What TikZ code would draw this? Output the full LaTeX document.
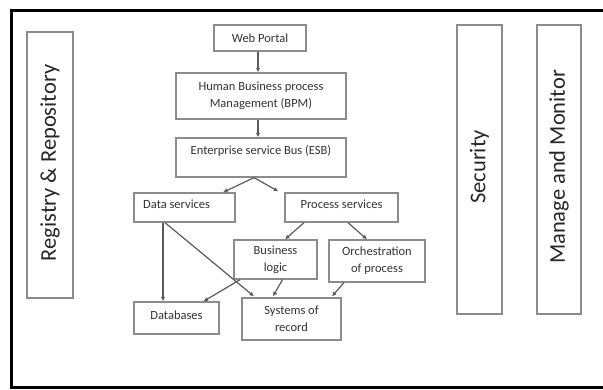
\documentclass[tikz,border=0pt]{standalone}
\usepackage{fontspec}
\setmainfont{Carlito}
\usetikzlibrary{arrows.meta,calc}
\definecolor{boxgray}{HTML}{8C8C8C}
\definecolor{linegray}{HTML}{5A5A5A}
\tikzset{
  box/.style={draw=boxgray, line width=1.3pt, inner sep=0pt, align=center,
    font=\fontsize{12.5}{17}\selectfont, text=black!80},
  txt/.style={inner sep=0pt, align=center, font=\fontsize{12.5}{17}\selectfont, text=black!80},
  side/.style={draw=boxgray, line width=1.3pt, inner sep=0pt},
  sidetxt/.style={inner sep=0pt, rotate=90, font=\fontsize{22.5}{26}\selectfont, text=black!85},
  arr/.style={draw=linegray, line width=1.2pt, -{Latex[length=4.5pt,width=4.5pt]}}
}
\begin{document}
\begin{tikzpicture}[x=1pt,y=-1pt]
\useasboundingbox (0,0) rectangle (603,389);
\begin{scope}
\clip (0,0) rectangle (603,389);
\draw[line width=3pt, black] (11.5,10) rectangle (620,387);
\end{scope}
% side boxes
\node[side, minimum width=46pt, minimum height=266pt] (reg) at (50,165) {};
\node[sidetxt] at (50,163) {Registry \& Repository};
\node[side, minimum width=45pt, minimum height=289pt] (sec) at (479.5,169.5) {};
\node[sidetxt] at (479.5,167) {Security};
\node[side, minimum width=44pt, minimum height=289pt] (mm) at (559,169.5) {};
\node[sidetxt] at (559,167) {Manage and Monitor};
% main boxes
\node[box, minimum width=92pt, minimum height=26pt] (wp) at (260,38) {Web Portal};
\node[box, minimum width=170pt, minimum height=46pt] (bpm) at (261,96) {Human Business process\\Management (BPM)};
\node[box, minimum width=170pt, minimum height=39pt] (esb) at (261,157.5) {};
\node[txt] at (261,151) {Enterprise service Bus (ESB)};
\node[box, minimum width=101pt, minimum height=29pt] (ds) at (184.5,207.5) {};
\node[txt, anchor=west] at (143,204) {Data services};
\node[box, minimum width=113pt, minimum height=29pt] (ps) at (341.5,207.5) {};
\node[txt] at (341.5,204) {Process services};
\node[box, minimum width=83pt, minimum height=39pt] (bl) at (275.5,259.5) {Business\\logic};
\node[box, minimum width=96pt, minimum height=42pt] (orc) at (377,261) {Orchestration\\of process};
\node[box, minimum width=85pt, minimum height=32pt] (db) at (176.5,318) {};
\node[txt] at (176.5,315) {Databases};
\node[box, minimum width=99pt, minimum height=42pt] (sor) at (291.5,319) {Systems of\\record};
% arrows
\draw[arr] ($(wp.south)+(-2,0)$) -- ($(bpm.north)+(-3,0)$);
\draw[arr] ($(bpm.south)+(-3,0)$) -- ($(esb.north)+(-3,0)$);
\draw[arr] ($(esb.south)+(-7,0)$) -- ($(ds.north)+(38.5,0)$);
\draw[arr] ($(esb.south)+(-7,0)$) -- ($(ps.north west)+(-6,-1)$);
\draw[arr] ($(ps.south)+(-37.5,0)$) -- ($(bl.north)+(9.5,0)$);
\draw[arr] ($(ps.south)+(6.5,0)$) -- ($(orc.north)+(-10,0)$);
\draw[arr] ($(ds.south)+(-21.5,0)$) -- ($(db.north)+(-13.5,0)$);
\draw[arr] ($(ds.south)+(-19.5,0)$) -- ($(sor.north)+(-37.5,-1)$);
\draw[arr] ($(bl.south)+(-35.5,0)$) -- ($(db.north)+(27,0)$);
\draw[arr] ($(bl.south)+(7,0)$) -- ($(sor.north)+(-18.5,-1)$);
\draw[arr] ($(orc.south)+(-33,0)$) -- ($(sor.north)+(40.5,-1)$);
\end{tikzpicture}
\end{document}
